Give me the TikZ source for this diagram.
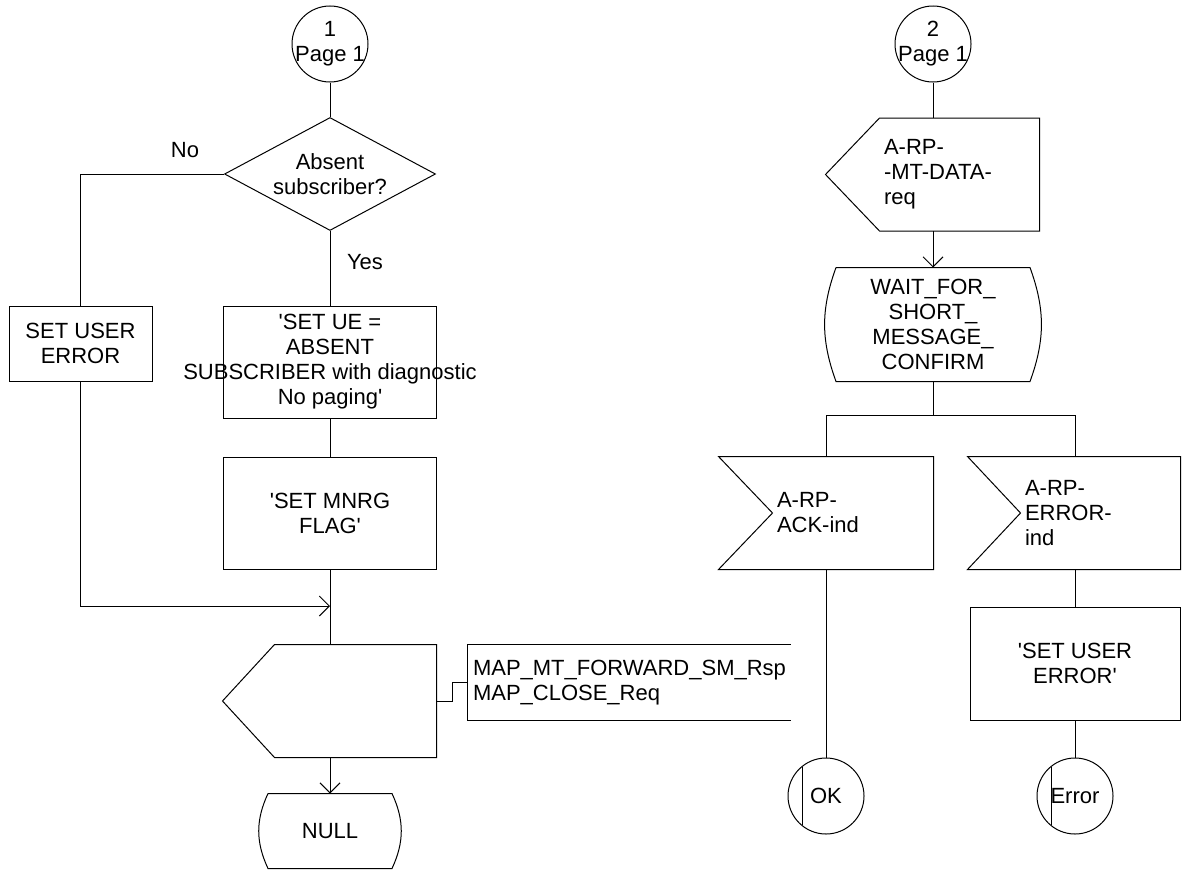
\documentclass[tikz,border=0pt]{standalone}
\usepackage{fontspec}
\setmainfont{Liberation Sans}
\usetikzlibrary{arrows.meta,shapes.geometric}
\newcommand{\tq}{\textquotesingle}

\begin{document}
\begin{tikzpicture}[x=1pt, y=-1pt, line width=1pt,
  font=\fontsize{22}{25}\selectfont,
  task/.style={draw, rectangle, align=center, inner sep=0pt},
  decision/.style={draw, diamond, shape aspect=1.87, align=center, inner sep=0pt,
                   minimum width=211pt, minimum height=113pt},
  conn/.style={draw, circle, align=center, inner sep=0pt, minimum size=76pt},
  sigbox/.style={rectangle, align=left, inner sep=4pt, minimum height=112pt},
  stbox/.style={rectangle, align=center, inner sep=0pt},
  flow/.style={-{Straight Barb[length=10pt,width=20pt]}}]
  \useasboundingbox (0,0) rectangle (1182,870);

  % left branch
  \node[conn] (con1) at (330,44) {1\\\makebox[0pt]{Page 1}};
  \node[decision] (absent) at (330,174) {Absent\\subscriber?};
  \node (no) at (185,150) {No};
  \node (yes) at (365,262) {Yes};
  \node[task, minimum width=143pt, minimum height=75pt] (usererr) at (80.5,343.5) {SET USER\\ERROR};
  \node[task, minimum width=213pt, minimum height=112pt] (setue) at (330,362)
    {\tq SET UE =\\ABSENT\\\makebox[0pt]{SUBSCRIBER with diagnostic}\\No paging\tq};
  \node[task, minimum width=213pt, minimum height=112pt] (mnrg) at (330,513) {\tq SET MNRG\\FLAG\tq};
  \coordinate (merge) at (330,606);
  \node[sigbox, minimum width=161pt] (fwd) at (355.5,701) {};
  \draw (fwd.north east) -- (fwd.south east) -- (fwd.south west)
    -- ([xshift=-52pt]fwd.west) -- (fwd.north west) -- cycle;
  \node[rectangle, align=left, inner sep=5pt, text width=312pt, minimum height=75pt] (note) at (629,682.5)
    {MAP\_MT\_FORWARD\_SM\_Rsp\\MAP\_CLOSE\_Req};
  \draw (note.north east) -- (note.north west) -- (note.south west) -- (note.south east);
  \draw (fwd.east) -- ++(16,0) |- (note.west);
  \node[stbox, minimum width=123pt, minimum height=74pt] (null) at (330,831) {NULL};
  \draw (null.north west) -- (null.north east) to[bend left=25] (null.south east)
    -- (null.south west) to[bend left=25] (null.north west);

  \draw (con1) -- (absent);
  \draw (absent.west) -| (usererr.north);
  \draw (absent.south) -- (setue.north);
  \draw (setue.south) -- (mnrg.north);
  \draw (mnrg.south) -- (mnrg.south |- fwd.north);
  \draw[flow] (usererr.south) |- (merge);
  \draw[flow] (mnrg.south |- fwd.south) -- (null.north);

  % right branch
  \node[conn] (con2) at (933,44) {2\\\makebox[0pt]{Page 1}};
  \node[sigbox, text width=151pt] (mtdata) at (959.5,174.5) {A-RP-\\-MT-DATA-\\req};
  \draw (mtdata.north east) -- (mtdata.south east) -- (mtdata.south west)
    -- ([xshift=-54pt]mtdata.west) -- (mtdata.north west) -- cycle;
  \node[stbox, minimum width=193pt, minimum height=113pt] (wait) at (933,324.5)
    {WAIT\_FOR\_\\SHORT\_\\MESSAGE\_\\CONFIRM};
  \draw (wait.north west) -- (wait.north east) to[bend left=20] (wait.south east)
    -- (wait.south west) to[bend left=20] (wait.north west);
  \coordinate (forkL) at (826,415);
  \coordinate (forkR) at (1075,415);
  \node[sigbox, text width=152pt] (ack) at (853,513) {A-RP-\\ACK-ind};
  \draw ([xshift=-54pt]ack.north west) -- (ack.north east) -- (ack.south east)
    -- ([xshift=-54pt]ack.south west) -- (ack.west) -- cycle;
  \node[sigbox, text width=151pt] (rperr) at (1100.5,513) {A-RP-\\ERROR-\\ind};
  \draw ([xshift=-53pt]rperr.north west) -- (rperr.north east) -- (rperr.south east)
    -- ([xshift=-53pt]rperr.south west) -- (rperr.west) -- cycle;
  \node[task, minimum width=210pt, minimum height=113pt] (usererr2) at (1075,663.5) {\tq SET USER\\ERROR\tq};
  \node[conn] (ok) at (826,796) {OK};
  \node[conn] (error) at (1075,796) {Error};
  \draw ([shift={(-24pt,29pt)}]ok.center) -- ([shift={(-24pt,-29pt)}]ok.center);
  \draw ([shift={(-24pt,29pt)}]error.center) -- ([shift={(-24pt,-29pt)}]error.center);

  \draw (con2.south) -- (con2.south |- mtdata.north);
  \draw[flow] (con2.south |- mtdata.south) -- (wait.north);
  \draw (wait.south) -- (wait.south |- forkL);
  \draw (forkL) -- (forkR);
  \draw (forkL) -- (forkL |- ack.north);
  \draw (forkR) -- (forkR |- rperr.north);
  \draw (forkL |- ack.south) -- (ok.north);
  \draw (forkR |- rperr.south) -- (usererr2.north);
  \draw (usererr2.south) -- (error.north);
\end{tikzpicture}
\end{document}
